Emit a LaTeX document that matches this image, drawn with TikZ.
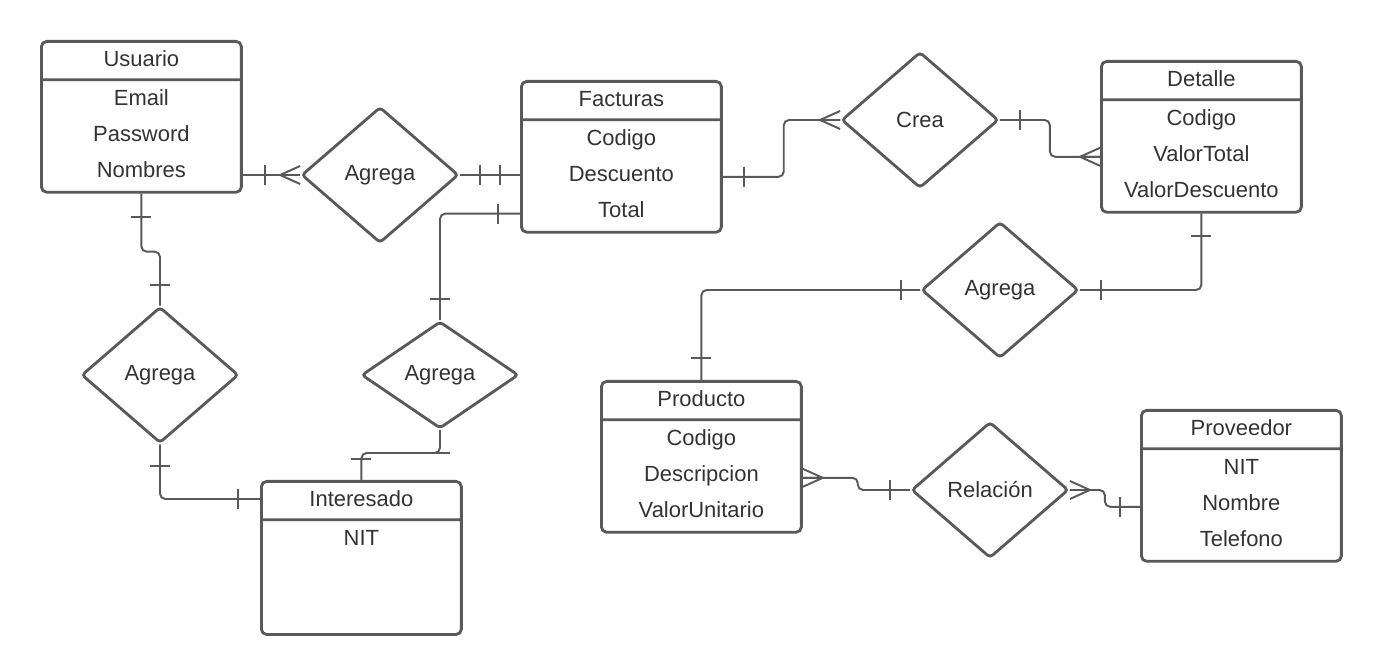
\documentclass[tikz,border=0pt]{standalone}
\usepackage{fontspec}
\setmainfont{Liberation Sans}
\usetikzlibrary{shapes.geometric,shapes.multipart,calc}

\definecolor{linegray}{RGB}{89,89,89}
\definecolor{textgray}{RGB}{51,51,51}

\newcommand{\erhead}{\rule[-0.24cm]{0pt}{0.71cm}}
\newcommand{\ertop}{\rule{0pt}{0.48cm}}
\newcommand{\erbot}{\rule[-0.26cm]{0pt}{0.26cm}}

\tikzset{
  entity/.style={draw=linegray, line width=1.6pt, rounded corners=3pt, rectangle split, rectangle split parts=2,
    text width=4cm, inner sep=0pt, align=center, anchor=north west, text=textgray},
  relation/.style={draw=linegray, line width=1.6pt, diamond, rounded corners=2pt, minimum width=3.14cm,
    minimum height=2.72cm, inner sep=0pt, text=textgray},
  conn/.style={draw=linegray, line width=1.1pt, rounded corners=3pt},
  crowfoot/.pic={\draw[conn, sharp corners] (20,-9) -- (0,0) -- (20,9) (0,0) -- (20,0);},
  onebar/.pic={\draw[conn] (0,-10) -- (0,10);}
}

\begin{document}
\begin{tikzpicture}[x=0.02cm, y=-0.02cm, font=\fontsize{12.5}{20.7}\selectfont]
  \useasboundingbox[fill=white] (0,0) rectangle (1380,671);

  % Entidades
  \node[entity] (usuario) at (40,40) {\erhead Usuario \nodepart{two} \ertop Email\\ Password\\ Nombres\erbot};
  \node[entity] (facturas) at (520,80) {\erhead Facturas \nodepart{two} \ertop Codigo\\ Descuento\\ Total\erbot};
  \node[entity] (detalle) at (1100,60) {\erhead Detalle \nodepart{two} \ertop Codigo\\ ValorTotal\\ ValorDescuento\erbot};
  \node[entity] (interesado) at (260,480) {\erhead Interesado \nodepart{two} \ertop NIT\rule[-1.76cm]{0pt}{1.76cm}};
  \node[entity] (producto) at (600,380) {\erhead Producto \nodepart{two} \ertop Codigo\\ Descripcion\\ ValorUnitario\erbot};
  \node[entity] (proveedor) at (1140,409) {\erhead Proveedor \nodepart{two} \ertop NIT\\ Nombre\\ Telefono\erbot};

  % Relaciones
  \node[relation] (agrega1) at (380,175) {Agrega};
  \node[relation] (agrega2) at (160,375) {Agrega};
  \node[relation, minimum height=2.14cm] (agrega3) at (440,375) {Agrega};
  \node[relation] (crea) at (920,120) {Crea};
  \node[relation] (agrega4) at (1000,290) {Agrega};
  \node[relation] (relacion) at (990,490) {Relación};

  % Usuario - Agrega - Facturas
  \draw[conn] (usuario.east |- agrega1.west) -- (agrega1.west);
  \pic at ($(usuario.east |- agrega1.west)+(22,0)$) {onebar};
  \pic at ($(agrega1.west)+(-20,0)$) {crowfoot};
  \draw[conn] (agrega1.east) -- (agrega1.east -| facturas.west);
  \pic at ($(agrega1.east)+(20,0)$) {onebar};
  \pic at ($(agrega1.east)+(40,0)$) {onebar};

  % Facturas - Agrega - Interesado
  \draw[conn] ($(facturas.south west)+(0,-20)$) -| (agrega3.north);
  \pic at ($(facturas.south west)+(-22,-20)$) {onebar};
  \pic[rotate=90] at ($(agrega3.north)+(0,-21)$) {onebar};
  \draw[conn] (agrega3.south) |- ($(interesado.north)+(0,-27)$) -- (interesado.north);
  \pic[rotate=90] at ($(agrega3.south)+(0,23)$) {onebar};
  \pic[rotate=90] at ($(interesado.north)+(0,-21)$) {onebar};

  % Usuario - Agrega - Interesado
  \draw[conn] (usuario.south) -- ++(0,58) -| (agrega2.north);
  \pic[rotate=90] at ($(usuario.south)+(0,23)$) {onebar};
  \pic[rotate=90] at ($(agrega2.north)+(0,-21)$) {onebar};
  \draw[conn] (agrega2.south) |- ($(interesado.north west)+(0,19)$);
  \pic[rotate=90] at ($(agrega2.south)+(0,22)$) {onebar};
  \pic at ($(interesado.north west)+(-22,19)$) {onebar};

  % Facturas - Crea - Detalle
  \draw[conn] ($(facturas.east)+(0,20)$) -- ++(61,0) |- (crea.west);
  \pic at ($(facturas.east)+(21,20)$) {onebar};
  \pic at ($(crea.west)+(-20,0)$) {crowfoot};
  \draw[conn] (crea.east) -- ++(50,0) |- ($(detalle.west)+(0,20)$);
  \pic at ($(crea.east)+(20,0)$) {onebar};
  \pic at ($(detalle.west)+(-20,20)$) {crowfoot};

  % Detalle - Agrega - Producto
  \draw[conn] (detalle.south) |- (agrega4.east);
  \pic[rotate=90] at ($(detalle.south)+(0,22)$) {onebar};
  \pic at ($(agrega4.east)+(21,0)$) {onebar};
  \draw[conn] (agrega4.west) -| (producto.north);
  \pic at ($(agrega4.west)+(-19,0)$) {onebar};
  \pic[rotate=90] at ($(producto.north)+(0,-22)$) {onebar};

  % Producto - Relación - Proveedor
  \draw[conn] ($(producto.east)+(0,21)$) -- ++(55,0) |- (relacion.west);
  \pic[rotate=180] at ($(producto.east)+(20,21)$) {crowfoot};
  \pic at ($(relacion.west)+(-20,0)$) {onebar};
  \draw[conn] (relacion.east) -- ++(35,0) |- ($(proveedor.west)+(0,21)$);
  \pic[rotate=180] at ($(relacion.east)+(20,0)$) {crowfoot};
  \pic at ($(proveedor.west)+(-20,21)$) {onebar};
\end{tikzpicture}
\end{document}
